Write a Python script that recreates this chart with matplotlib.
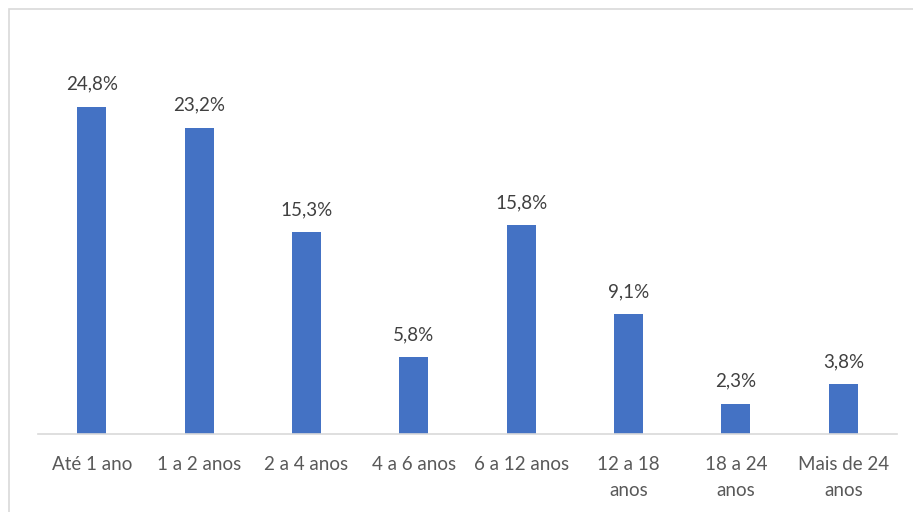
import matplotlib
matplotlib.use("Agg")
from matplotlib import pyplot as plt
from matplotlib.patches import Rectangle
import numpy as np

categorias = ["Até 1 ano", "1 a 2 anos", "2 a 4 anos", "4 a 6 anos", "6 a 12 anos",
              "12 a 18\nanos", "18 a 24\nanos", "Mais de 24\nanos"]
valores = [24.8, 23.2, 15.3, 5.8, 15.8, 9.1, 2.3, 3.8]
rotulos = ["24,8%", "23,2%", "15,3%", "5,8%", "15,8%", "9,1%", "2,3%", "3,8%"]

plt.rcParams['font.family'] = ['Lato', 'DejaVu Sans']
cor_texto = "#595959"

fig = plt.figure(figsize=(9.13, 5.12), dpi=100)
ax = fig.add_axes([38/913, 1 - 434/512, (897 - 38)/913, (434 - 38)/512])

x = np.arange(len(categorias))
barras = ax.bar(x, valores, width=0.27, color="#4472C4")

for b, r in zip(barras, rotulos):
    ax.annotate(r, (b.get_x() + b.get_width()/2, b.get_height()),
                xytext=(0, 10), textcoords="offset points",
                ha="center", va="bottom", fontsize=13.5, color="#404040")

ax.set_xlim(-0.5, len(categorias) - 0.5)
ax.set_ylim(0, 30)
ax.set_xticks(x)
ax.set_xticklabels(categorias, fontsize=13.5, color=cor_texto, linespacing=1.6, va="top")
ax.tick_params(axis="x", length=0, pad=16)
ax.set_yticks([])
for lado in ["top", "right", "left"]:
    ax.spines[lado].set_visible(False)
ax.spines["bottom"].set_color("#D9D9D9")
ax.spines["bottom"].set_linewidth(1.2)

# borda do gráfico
fig.patches.append(Rectangle((9/913, -0.1), 1.2, 1 - 9/512 + 0.1, transform=fig.transFigure,
                             fill=False, edgecolor="#D9D9D9", linewidth=1.2))

fig.savefig("out.png", dpi=100)
